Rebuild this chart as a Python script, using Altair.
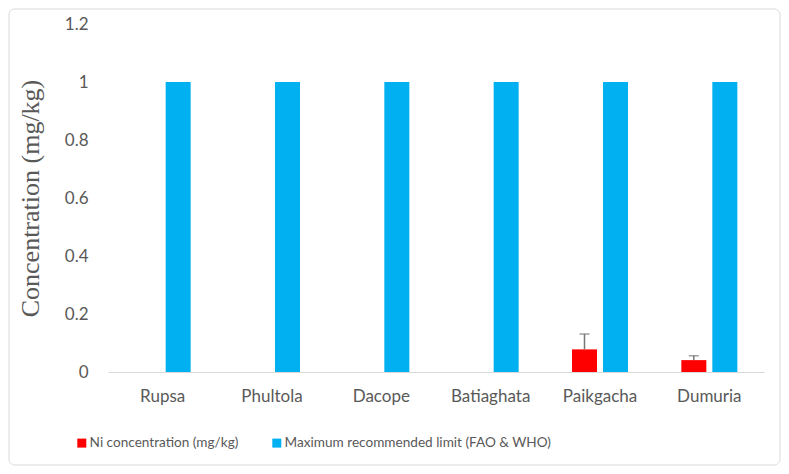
import altair as alt
import pandas as pd

sites = ["Rupsa", "Phultola", "Dacope", "Batiaghata", "Paikgacha", "Dumuria"]
ni_values = [0, 0, 0, 0, 0.078, 0.041]
ni_errors = [0, 0, 0, 0, 0.053, 0.015]
limit_values = [1, 1, 1, 1, 1, 1]
series = ["Ni concentration (mg/kg)", "Maximum recommended limit (FAO & WHO)"]
colors = ["#FF0000", "#00B0F0"]

rows = []
for s, v, l in zip(sites, ni_values, limit_values):
    rows.append({"site": s, "series": series[0], "value": v})
    rows.append({"site": s, "series": series[1], "value": l})
df = pd.DataFrame(rows)

err = pd.DataFrame({"site": sites, "value": ni_values, "err": ni_errors, "series": series[0]})
err["upper"] = err["value"] + err["err"]
err = err[err["err"] > 0]

FONT = "Lato"
GRAY = "#595959"

x_enc = alt.X("site:N", sort=sites, title=None,
              scale=alt.Scale(paddingInner=0, paddingOuter=0),
              axis=alt.Axis(labelAngle=0, labelFont=FONT, labelFontSize=17, labelColor=GRAY,
                            labelPadding=16, ticks=False, domainColor="#d9d9d9", domainWidth=1,
                            grid=False))
xo_enc = alt.XOffset("series:N", sort=series,
                     scale=alt.Scale(domain=series, paddingInner=0.1935, paddingOuter=0.86))

bars = alt.Chart(df).mark_bar().encode(
    x=x_enc,
    xOffset=xo_enc,
    y=alt.Y("value:Q", title="Concentration (mg/kg)",
            scale=alt.Scale(domain=[0, 1.2], nice=False),
            axis=alt.Axis(values=[0, 0.2, 0.4, 0.6, 0.8, 1, 1.2], labelFont=FONT, labelFontSize=17,
                          labelColor=GRAY, labelPadding=20, ticks=False, domain=False, grid=False,
                          titleFont="Liberation Serif", titleFontSize=26, titleFontWeight="normal",
                          titleColor=GRAY, titlePadding=21,
                          labelExpr="datum.value == 0 ? '0' : format(datum.value, '.1~f')")),
    color=alt.Color("series:N", sort=series,
                    scale=alt.Scale(domain=series, range=colors),
                    legend=alt.Legend(title=None, orient="none", direction="horizontal",
                                      legendX=-33, legendY=412, columns=2, columnPadding=31,
                                      symbolType="square", symbolSize=81, symbolStrokeWidth=0,
                                      labelFont=FONT, labelFontSize=13.6, labelColor=GRAY,
                                      labelOffset=1, labelLimit=400, padding=0))
)

rule = alt.Chart(err).mark_rule(color="#767676", strokeWidth=1.5).encode(
    x=alt.X("site:N", sort=sites), xOffset=xo_enc,
    y="upper:Q", y2="value:Q")
cap = alt.Chart(err).mark_tick(color="#767676", thickness=1.5, size=10, orient="horizontal").encode(
    x=alt.X("site:N", sort=sites), xOffset=xo_enc, y="upper:Q")

border = alt.Chart(pd.DataFrame({"a": [0]})).mark_rect(
    fill=None, stroke="#d9d9d9", strokeWidth=1, cornerRadius=6
).encode(x=alt.value(-99), x2=alt.value(672), y=alt.value(-15), y2=alt.value(441))

chart = alt.layer(border, bars, rule, cap).properties(
    width=656, height=348,
    autosize=alt.AutoSizeParams(type="none"),
    padding={"left": 100, "top": 16, "right": 17, "bottom": 94},
).configure_view(stroke=None)

chart.save("out.html", embed_options={"renderer": "svg", "actions": False})
